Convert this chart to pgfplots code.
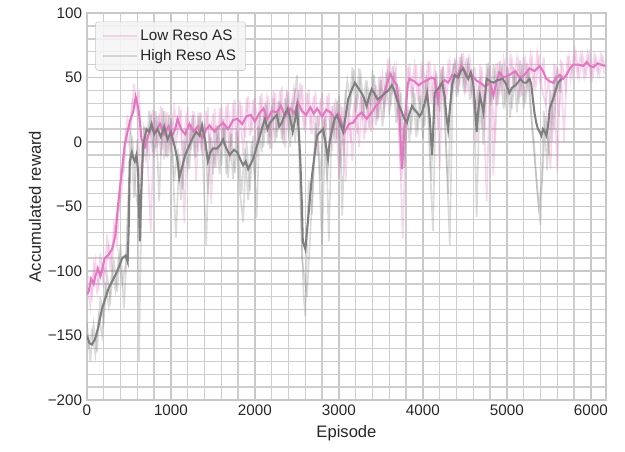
\documentclass[border=0pt]{standalone}
\usepackage{pgfplots}
\pgfplotsset{compat=1.18}
\usepackage{fontspec}
\setmainfont{Liberation Sans}
\definecolor{lowc}{HTML}{E377C2}
\definecolor{highc}{HTML}{7F7F7F}
\definecolor{gridc}{HTML}{C8C8C8}
\definecolor{txtc}{HTML}{262626}
\begin{document}
\begin{tikzpicture}
\useasboundingbox (-62.6bp,-37.4bp) rectangle (387.4bp,288bp);
\begin{axis}[
  scale only axis, width=373.7bp, height=278.6bp,
  xmin=0, xmax=6180, ymin=-200, ymax=100,
  xtick={0,1000,...,6000}, minor x tick num=4,
  ytick={-200,-150,-100,-50,0,50,100},
  yticklabels={−200,−150,−100,−50,0,50,100},
  minor y tick num=4,
  grid=both,
  major grid style={line width=1.2pt, gridc},
  minor grid style={line width=0.95pt, gridc!90!white},
  axis line style={line width=1.2pt, gridc},
  major tick length=0pt, minor tick length=0pt,
  tick style={draw=none},
  /pgf/number format/assume math mode=true,
  /pgf/number format/set thousands separator={},
  tick label style={font=\fontsize{11}{13}\selectfont, text=txtc},
  label style={font=\fontsize{12}{14}\selectfont, text=txtc},
  xlabel={Episode}, ylabel={Accumulated reward},
  ylabel style={yshift=-2pt},
  legend style={at={(0.016,0.978)}, anchor=north west, fill=black!4!white, fill opacity=0.85, text opacity=1, draw=gridc, rounded corners=2pt, font=\fontsize{11}{13}\selectfont, text=txtc, row sep=1.5pt, inner xsep=5pt, inner ysep=3.5pt},
  legend cell align=left,
  legend image code/.code={\draw[#1] (0cm,0cm) -- (0.85cm,0cm);},
  clip=true,
]
% raw Low Reso AS
\addplot[lowc, opacity=0.28, line width=1.2pt] coordinates {
(0,-110)(40,-128)(80,-96)(120,-116)(160,-86)(200,-113)(240,-72)(280,-100)(320,-64)(360,-80)
(400,-22)(440,-23)(480,19)(520,8)(560,45)(600,22)(640,-32)(680,12)(720,-9)(760,-70)
(800,24)(840,-4)(880,28)(920,-14)(960,23)(1000,-8)(1040,27)(1080,8)(1120,25)(1160,-63)
(1200,27)(1240,-6)(1280,23)(1320,-8)(1360,23)(1400,-7)(1440,27)(1480,-48)(1520,26)(1560,-9)
(1600,29)(1640,-3)(1680,30)(1720,-3)(1760,33)(1800,-5)(1840,29)(1880,3)(1920,36)(1960,8)
(2000,34)(2040,3)(2080,38)(2120,7)(2160,36)(2200,-6)(2240,38)(2280,12)(2320,43)(2360,-5)
(2400,39)(2440,12)(2480,42)(2520,14)(2560,44)(2600,8)(2640,41)(2680,6)(2720,39)(2760,12)
(2800,38)(2840,8)(2880,38)(2920,-7)(2960,34)(3000,-28)(3040,27)(3080,-31)(3120,30)(3160,-15)
(3200,35)(3240,-4)(3280,38)(3320,7)(3360,38)(3400,10)(3440,44)(3480,19)(3520,52)(3560,32)
(3600,65)(3640,41)(3680,57)(3720,5)(3760,-75)(3800,20)(3840,61)(3880,34)(3920,60)(3960,29)
(4000,61)(4040,36)(4080,63)(4120,33)(4160,55)(4200,-21)(4240,59)(4280,33)(4320,62)(4360,40)
(4400,64)(4440,46)(4480,69)(4520,38)(4560,64)(4600,40)(4640,0)(4680,60)(4720,32)(4760,-46)
(4800,60)(4840,-26)(4880,61)(4920,41)(4960,64)(5000,37)(5040,66)(5080,44)(5120,65)(5160,35)
(5200,66)(5240,42)(5280,67)(5320,43)(5360,69)(5400,44)(5440,66)(5480,9)(5520,-21)(5560,61)
(5600,-23)(5640,64)(5680,0)(5720,67)(5760,48)(5800,70)(5840,52)(5880,68)(5920,50)(5960,69)
(6000,49)(6040,67)(6080,53)(6120,68)(6160,53)
};
\addlegendentry{Low Reso AS}
% raw High Reso AS
\addplot[highc, opacity=0.28, line width=1.2pt] coordinates {
(0,-140)(40,-170)(80,-141)(120,-163)(160,-120)(200,-139)(240,-103)(280,-122)(320,-91)(360,-116)
(400,-79)(440,-129)(480,-80)(520,8)(560,-43)(600,2)(620,-170)(660,-1)(700,-13)(740,24)
(780,-8)(820,24)(860,-46)(900,26)(940,-11)(980,21)(1020,-17)(1060,-74)(1100,-10)(1140,-37)
(1180,10)(1220,-21)(1260,21)(1300,-12)(1340,23)(1380,-12)(1420,-80)(1460,6)(1500,-25)(1540,13)
(1580,-25)(1620,18)(1660,-25)(1700,8)(1740,-29)(1780,8)(1820,-38)(1860,-62)(1900,1)(1940,-38)
(1980,5)(2020,-59)(2060,23)(2100,-4)(2140,29)(2180,-5)(2220,34)(2260,3)(2300,31)(2340,-2)
(2380,40)(2420,-4)(2460,29)(2500,52)(2540,-43)(2580,-119)(2600,-135)(2640,-30)(2680,-56)(2720,15)
(2760,-14)(2800,-80)(2840,20)(2880,-77)(2920,28)(2960,-1)(3000,36)(3040,-57)(3080,40)(3120,20)
(3160,58)(3200,23)(3240,57)(3280,17)(3320,48)(3360,11)(3400,56)(3440,13)(3480,50)(3520,12)
(3560,54)(3600,21)(3640,59)(3680,15)(3720,43)(3760,-4)(3800,30)(3840,0)(3880,43)(3920,4)
(3960,36)(4000,3)(4040,52)(4080,-10)(4120,-69)(4160,53)(4200,23)(4240,58)(4280,-10)(4320,-80)
(4360,61)(4400,35)(4440,66)(4480,43)(4520,65)(4560,33)(4600,57)(4640,-58)(4680,50)(4720,-2)
(4760,61)(4800,29)(4840,60)(4880,28)(4920,63)(4960,26)(5000,58)(5040,19)(5080,58)(5120,23)
(5160,63)(5200,26)(5240,61)(5280,27)(5320,2)(5360,-37)(5400,-64)(5440,24)(5480,-22)(5520,40)
(5560,10)(5600,58)(5640,38)
};
\addlegendentry{High Reso AS}
% raw Low Reso AS, second half of samples
\addplot[lowc, opacity=0.28, line width=1.2pt, forget plot] coordinates {
(20,-104)(60,-120)(100,-92)(140,-112)(180,-94)(220,-102)(260,-80)(300,-94)(340,-60)(380,-52)
(420,-35)(460,8)(500,-2)(540,33)(580,28)(620,38)(660,-12)(700,8)(740,-10)(780,25)
(820,-5)(860,22)(900,-6)(940,20)(980,-4)(1020,18)(1060,-2)(1100,28)(1140,-10)(1180,20)
(1220,-2)(1260,24)(1300,-30)(1340,20)(1380,-10)(1420,24)(1460,0)(1500,22)(1540,-20)(1580,26)
(1620,2)(1660,28)(1700,-15)(1740,30)(1780,2)(1820,32)(1860,-10)(1900,34)(1940,5)(1980,33)
(2020,-12)(2060,36)(2100,12)(2140,34)(2180,4)(2220,40)(2260,8)(2300,40)(2340,6)(2380,36)
(2420,14)(2460,40)(2500,18)(2540,46)(2580,10)(2620,38)(2660,12)(2700,36)(2740,-10)(2780,34)
(2820,6)(2860,36)(2900,4)(2940,30)(2980,2)(3020,30)(3060,-10)(3100,26)(3140,0)(3180,30)
(3220,6)(3260,36)(3300,2)(3340,34)(3380,8)(3420,42)(3460,16)(3500,48)(3540,28)(3580,60)
(3620,40)(3660,58)(3700,30)(3740,-30)(3780,-10)(3820,58)(3860,38)(3900,60)(3940,32)(3980,58)
(4020,36)(4060,62)(4100,30)(4140,60)(4180,10)(4220,58)(4260,34)(4300,60)(4340,40)(4380,62)
(4420,42)(4460,68)(4500,42)(4540,63)(4580,38)(4620,58)(4660,20)(4700,58)(4740,10)(4780,58)
(4820,36)(4860,0)(4900,62)(4940,40)(4980,62)(5020,40)(5060,64)(5100,42)(5140,62)(5180,36)
(5220,64)(5260,44)(5300,66)(5340,40)(5380,68)(5420,40)(5460,30)(5500,50)(5540,0)(5580,60)
(5620,20)(5660,62)(5700,40)(5740,66)(5780,52)(5820,70)(5860,50)(5900,68)(5940,52)(5980,68)
(6020,50)(6060,66)(6100,52)(6140,66)(6180,56)
};
% raw High Reso AS, second half of samples
\addplot[highc, opacity=0.28, line width=1.2pt, forget plot] coordinates {
(20,-160)(60,-146)(100,-165)(140,-135)(180,-150)(220,-112)(260,-128)(300,-98)(340,-115)(380,-88)
(420,-110)(460,-95)(500,-30)(540,5)(580,-40)(640,-60)(680,10)(720,-5)(760,22)(800,-12)
(840,20)(880,-10)(920,24)(960,-12)(1000,18)(1040,-30)(1080,-5)(1120,-45)(1160,0)(1200,-20)
(1240,14)(1280,-8)(1320,18)(1360,-5)(1400,15)(1440,-40)(1480,4)(1520,-20)(1560,12)(1600,-18)
(1640,14)(1680,-28)(1720,6)(1760,-24)(1800,4)(1840,-40)(1880,-5)(1920,-45)(1960,0)(2000,-30)
(2040,12)(2080,-8)(2120,30)(2160,-2)(2200,28)(2240,0)(2280,32)(2320,2)(2360,34)(2400,8)
(2440,30)(2480,0)(2520,40)(2560,-90)(2620,-120)(2660,-70)(2700,-20)(2740,20)(2780,-30)(2820,18)
(2860,-30)(2900,20)(2940,6)(2980,32)(3020,-20)(3060,24)(3100,48)(3140,30)(3180,56)(3220,30)
(3260,52)(3300,22)(3340,44)(3380,28)(3420,52)(3460,18)(3500,48)(3540,24)(3580,52)(3620,30)
(3660,54)(3700,20)(3740,38)(3780,-20)(3820,28)(3860,10)(3900,38)(3940,10)(3980,34)(4020,12)
(4060,48)(4100,-30)(4140,50)(4180,30)(4220,56)(4260,20)(4300,-40)(4340,50)(4380,62)(4420,40)
(4460,64)(4500,40)(4540,62)(4580,40)(4620,20)(4660,40)(4700,10)(4740,42)(4780,58)(4820,34)
(4860,56)(4900,34)(4940,60)(4980,30)(5020,52)(5060,26)(5100,56)(5140,30)(5180,60)(5220,30)
(5260,58)(5300,10)(5340,-20)(5380,-50)(5420,-30)(5460,20)(5500,-10)(5540,30)(5580,50)(5620,40)
(5660,52)
};
% smoothed Low Reso AS
\addplot[lowc, line width=1.5pt, forget plot] coordinates {
(0,-118)(20,-116)(50,-106)(80,-110)(100,-104)(130,-98)(160,-104)(180,-100)(210,-90)(250,-88)
(300,-83)(340,-72)(370,-49)(415,-23)(450,-2)(490,10)(520,18)(550,23)(580,35)(600,30)
(620,22)(650,2)(690,-4)(730,5)(770,12)(820,8)(870,14)(920,6)(970,12)(1010,4)
(1050,10)(1080,18)(1120,10)(1170,6)(1220,14)(1270,8)(1320,12)(1370,3)(1420,10)(1460,13)
(1520,8)(1570,12)(1620,15)(1680,10)(1740,17)(1790,18)(1850,14)(1900,20)(1950,21)(2000,16)
(2050,22)(2100,26)(2150,18)(2200,24)(2260,23)(2310,28)(2360,20)(2420,26)(2470,22)(2510,31)
(2560,24)(2610,21)(2660,27)(2700,22)(2740,26)(2800,20)(2850,25)(2900,23)(2950,18)(3000,22)
(3040,13)(3070,8)(3120,14)(3170,15)(3220,20)(3270,23)(3330,18)(3390,23)(3440,28)(3500,33)
(3550,40)(3610,53)(3650,48)(3690,44)(3720,25)(3750,-21)(3770,0)(3790,21)(3820,45)(3840,49)
(3900,47)(3950,44)(3990,46)(4050,48)(4100,50)(4140,49)(4180,32)(4210,45)(4260,48)(4300,46)
(4350,52)(4400,50)(4460,59)(4500,55)(4540,50)(4580,52)(4630,48)(4680,46)(4740,43)(4800,46)
(4840,36)(4870,45)(4910,54)(4960,50)(5030,52)(5100,55)(5160,49)(5220,53)(5270,57)(5330,55)
(5390,59)(5430,55)(5470,49)(5510,47)(5550,46)(5590,50)(5630,52)(5670,49)(5710,52)(5750,57)
(5790,60)(5850,60)(5910,59)(5950,62)(5990,59)(6030,58)(6080,61)(6120,60)(6170,59)
};
% smoothed High Reso AS
\addplot[highc, line width=1.5pt, forget plot] coordinates {
(0,-150)(30,-156)(60,-157)(95,-153)(130,-145)(180,-129)(220,-121)(260,-113)(300,-108)(340,-103)
(380,-97)(420,-90)(460,-88)(485,-93)(500,-60)(510,-15)(535,-8)(550,-12)(570,-15)(590,-10)
(610,-23)(620,-50)(630,-77)(645,-40)(670,-2)(710,10)(740,8)(770,14)(800,6)(840,10)
(880,4)(920,12)(960,2)(1000,8)(1050,-5)(1080,-15)(1100,-28)(1130,-20)(1170,-10)(1210,-4)
(1250,2)(1300,8)(1340,5)(1370,13)(1410,0)(1440,-15)(1470,-8)(1500,-5)(1550,-5)(1590,-2)
(1620,2)(1660,-5)(1700,-10)(1750,-6)(1790,-8)(1830,-14)(1860,-18)(1890,-15)(1920,-21)(1950,-17)
(1980,-13)(2020,-4)(2060,5)(2090,12)(2120,18)(2150,10)(2180,15)(2220,18)(2260,21)(2290,12)
(2320,15)(2360,22)(2390,26)(2420,18)(2450,8)(2480,18)(2500,27)(2520,10)(2540,-13)(2560,-50)
(2570,-77)(2600,-83)(2630,-62)(2660,-40)(2680,-26)(2710,-10)(2740,5)(2780,8)(2810,10)(2840,0)
(2870,-13)(2890,0)(2920,10)(2950,18)(2980,21)(3010,15)(3050,8)(3080,20)(3110,33)(3150,40)
(3190,46)(3230,42)(3270,38)(3300,34)(3330,28)(3360,35)(3390,41)(3420,38)(3460,33)(3500,35)
(3550,38)(3590,40)(3630,44)(3660,40)(3690,33)(3720,28)(3750,23)(3780,18)(3810,15)(3840,22)
(3870,28)(3900,25)(3930,23)(3960,20)(3990,23)(4020,30)(4050,38)(4080,20)(4110,-10)(4130,20)
(4140,38)(4190,42)(4230,46)(4260,35)(4280,20)(4300,10)(4320,25)(4350,45)(4380,52)(4420,50)
(4450,55)(4480,57)(4510,52)(4540,49)(4570,54)(4600,45)(4620,30)(4640,8)(4660,25)(4680,36)
(4700,30)(4720,23)(4740,35)(4760,49)(4800,47)(4840,46)(4890,48)(4950,49)(4990,45)(5030,38)
(5060,42)(5100,44)(5130,46)(5160,49)(5200,46)(5230,46)(5270,49)(5290,45)(5310,33)(5330,22)
(5350,15)(5370,10)(5390,8)(5410,5)(5430,10)(5450,8)(5470,5)(5490,12)(5510,26)(5530,30)
(5550,33)(5580,40)(5610,46)(5650,49)
};
\end{axis}
\end{tikzpicture}
\end{document}
